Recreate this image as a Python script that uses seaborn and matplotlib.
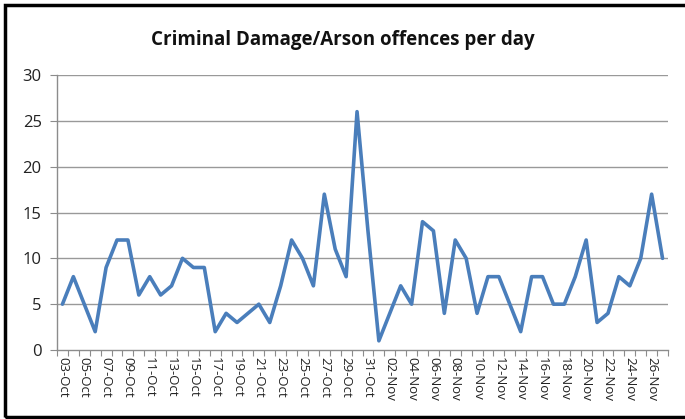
import matplotlib
matplotlib.use("Agg")
import matplotlib.pyplot as plt
import seaborn as sns
import pandas as pd
import numpy as np
from matplotlib.patches import Rectangle

dates = pd.date_range("2013-10-03", "2013-11-27", freq="D")
date_labels = [d.strftime("%d-%b") for d in dates]
offences = [5, 8, 5, 2, 9, 12, 12, 6, 8, 6, 7, 10, 9, 9, 2, 4, 3, 4, 5, 3,
            7, 12, 10, 7, 17, 11, 8, 26, 13, 1, 4, 7, 5, 14, 13, 4, 12, 10, 4, 8,
            8, 5, 2, 8, 8, 5, 5, 8, 12, 3, 4, 8, 7, 10, 17, 10]
yticks = [0, 5, 10, 15, 20, 25, 30]
title = "Criminal Damage/Arson offences per day"

sns.set_style("white")
plt.rcParams['font.family'] = ['Open Sans', 'DejaVu Sans']

df = pd.DataFrame({"idx": np.arange(len(offences)), "offences": offences})

fig = plt.figure(figsize=(6.85, 4.19), dpi=100)
ax = fig.add_axes([57/685, 1-350/419, (668-57)/685, (350-75)/419])

for y in yticks[1:]:
    ax.axhline(y, color="#999999", lw=1.0, zorder=0)

sns.lineplot(data=df, x="idx", y="offences", ax=ax, color="#4A7EBB",
             linewidth=2.6, legend=False)

ax.set_xlim(-0.5, len(offences) - 0.5)
ax.set_ylim(0, 30)
ax.set_yticks(yticks)
ax.set_yticklabels([str(v) for v in yticks], fontsize=12, color="#222222")
ax.tick_params(axis="y", length=5, width=0.8, color="#8c8c8c", direction="out", pad=6, left=True)

major = np.arange(0, len(offences), 2)
ax.set_xticks(major)
ax.set_xticklabels([date_labels[i] for i in major], rotation=270, fontsize=9.5,
                   color="#222222")
ax.tick_params(axis="x", length=0, pad=5)
ax.set_xticks(np.arange(-0.5, len(offences), 1.0), minor=True)
ax.tick_params(axis="x", which="minor", length=4, width=0.8, color="#8c8c8c",
               direction="out", bottom=True)

ax.set_xlabel("")
ax.set_ylabel("")
for s in ["top", "right"]:
    ax.spines[s].set_visible(False)
for s in ["left", "bottom"]:
    ax.spines[s].set_color("#8c8c8c")
    ax.spines[s].set_linewidth(1.0)

fig.text(0.5, 1 - 40/419, title, ha="center", va="center", fontsize=13.5,
         fontweight="bold", family=["Open Sans", "DejaVu Sans"], color="#111111")

fig.patches.append(Rectangle((5/685, 1-417/419), 1.0, (417-5)/419,
                             transform=fig.transFigure, fill=False,
                             edgecolor="black", linewidth=2.5))

fig.savefig("out.png", dpi=100)
